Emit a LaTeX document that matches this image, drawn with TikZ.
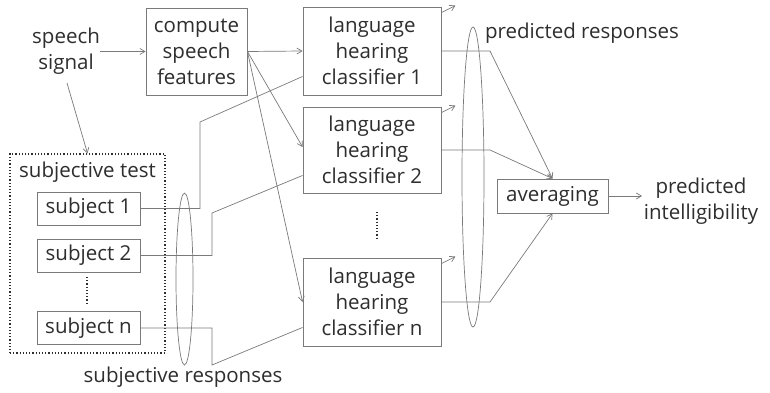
\documentclass[tikz,border=0pt]{standalone}
\usepackage{fontspec}
\setmainfont{Open Sans}
\usetikzlibrary{arrows.meta,calc,shapes.geometric}
\definecolor{ln}{HTML}{7A7A7A}
\definecolor{tx}{HTML}{2E2E2E}
\tikzset{
  lbl/.style={text=tx,font=\fontsize{20.5}{26}\selectfont,align=center,inner sep=0pt},
  bx/.style={lbl,draw=ln,line width=0.9pt},
  wire/.style={draw=ln,line width=0.7pt},
  arr/.style={wire,-{Straight Barb[length=5pt,width=6pt]}},
  dots/.style={draw=tx,line width=1.2pt,dotted}
}
\begin{document}
\begin{tikzpicture}[x=1pt,y=-1pt]
\useasboundingbox[fill=white] (0,0) rectangle (770,393);
% nodes
\node[lbl] (sig) at (66,51) {speech\\signal};
\node[bx,minimum width=101pt,minimum height=87pt] (csf) at (196.5,51.5) {compute\\speech\\features};
\node[bx,minimum width=138pt,minimum height=88pt] (c1) at (372,51) {language\\hearing\\classifier 1};
\node[bx,minimum width=138pt,minimum height=86pt] (c2) at (372,150) {language\\hearing\\classifier 2};
\node[bx,minimum width=138pt,minimum height=88pt] (cn) at (372,302) {language\\hearing\\classifier n};
\node[draw=tx,line width=1.2pt,dotted,minimum width=155pt,minimum height=199pt,inner sep=0pt] (st) at (87.5,253.5) {};
\node[lbl] (sttitle) at (87.5,172) {subjective test};
\node[bx,minimum width=103pt,minimum height=33pt] (s1) at (88.5,208.5) {subject 1};
\node[bx,minimum width=103pt,minimum height=33pt] (s2) at (88.5,255.5) {subject 2};
\node[bx,minimum width=103pt,minimum height=33pt] (sn) at (88.5,328) {subject n};
\node[bx,minimum width=111pt,minimum height=34pt] (avg) at (552.5,196) {averaging};
\node[lbl] (pi) at (701,201) {predicted\\intelligibility};
\node[lbl] (pr) at (582,33) {predicted responses};
\node[lbl] (sr) at (183,377) {subjective responses};
\node[draw=ln,line width=0.7pt,ellipse,minimum width=17pt,minimum height=172pt,inner sep=0pt] (sre) at (184.5,279) {};
\node[draw=ln,line width=0.7pt,ellipse,minimum width=22pt,minimum height=300pt,inner sep=0pt] (pre) at (473,177) {};
% dots
\draw[dots] (87,277) -- (87,305);
\draw[dots] (377,212) -- (377,240);
% connectors
\draw[arr] (sig.east |- csf.west) -- (csf.west);
\coordinate (sigb) at (67,83);
\draw[arr] (sigb) -- (st.north);
\draw[arr] (csf.east) -- (c1.west);
\draw[arr] (csf.east) -- ($(c2.west)+(0,-3)$);
\draw[arr] (csf.east) -- (cn.west);
\draw[wire] (s1.east) -- (200,208.5) -- (200,122) -- ($(c1.south west)+(0,-19)$);
\draw[wire] (s2.east) -- (212,255.5) -- (212,213) -- ($(c2.south west)+(0,-18)$);
\draw[wire] (sn.east) -- (212,328) -- (212,365) -- ($(cn.south west)+(0,-19)$);
\draw[arr] (c1.east) -- (490,51) -- (avg.north);
\draw[arr] (c2.east) -- (490,150) -- (avg.north);
\draw[arr] (cn.east) -- (490,302) -- (avg.south);
\draw[arr] (avg.east) -- (642,196);
\foreach \c in {c1,c2,cn}{
  \draw[arr] ($(\c.north east)+(0,6)$) -- ++(14,-7);
}
\end{tikzpicture}
\end{document}
